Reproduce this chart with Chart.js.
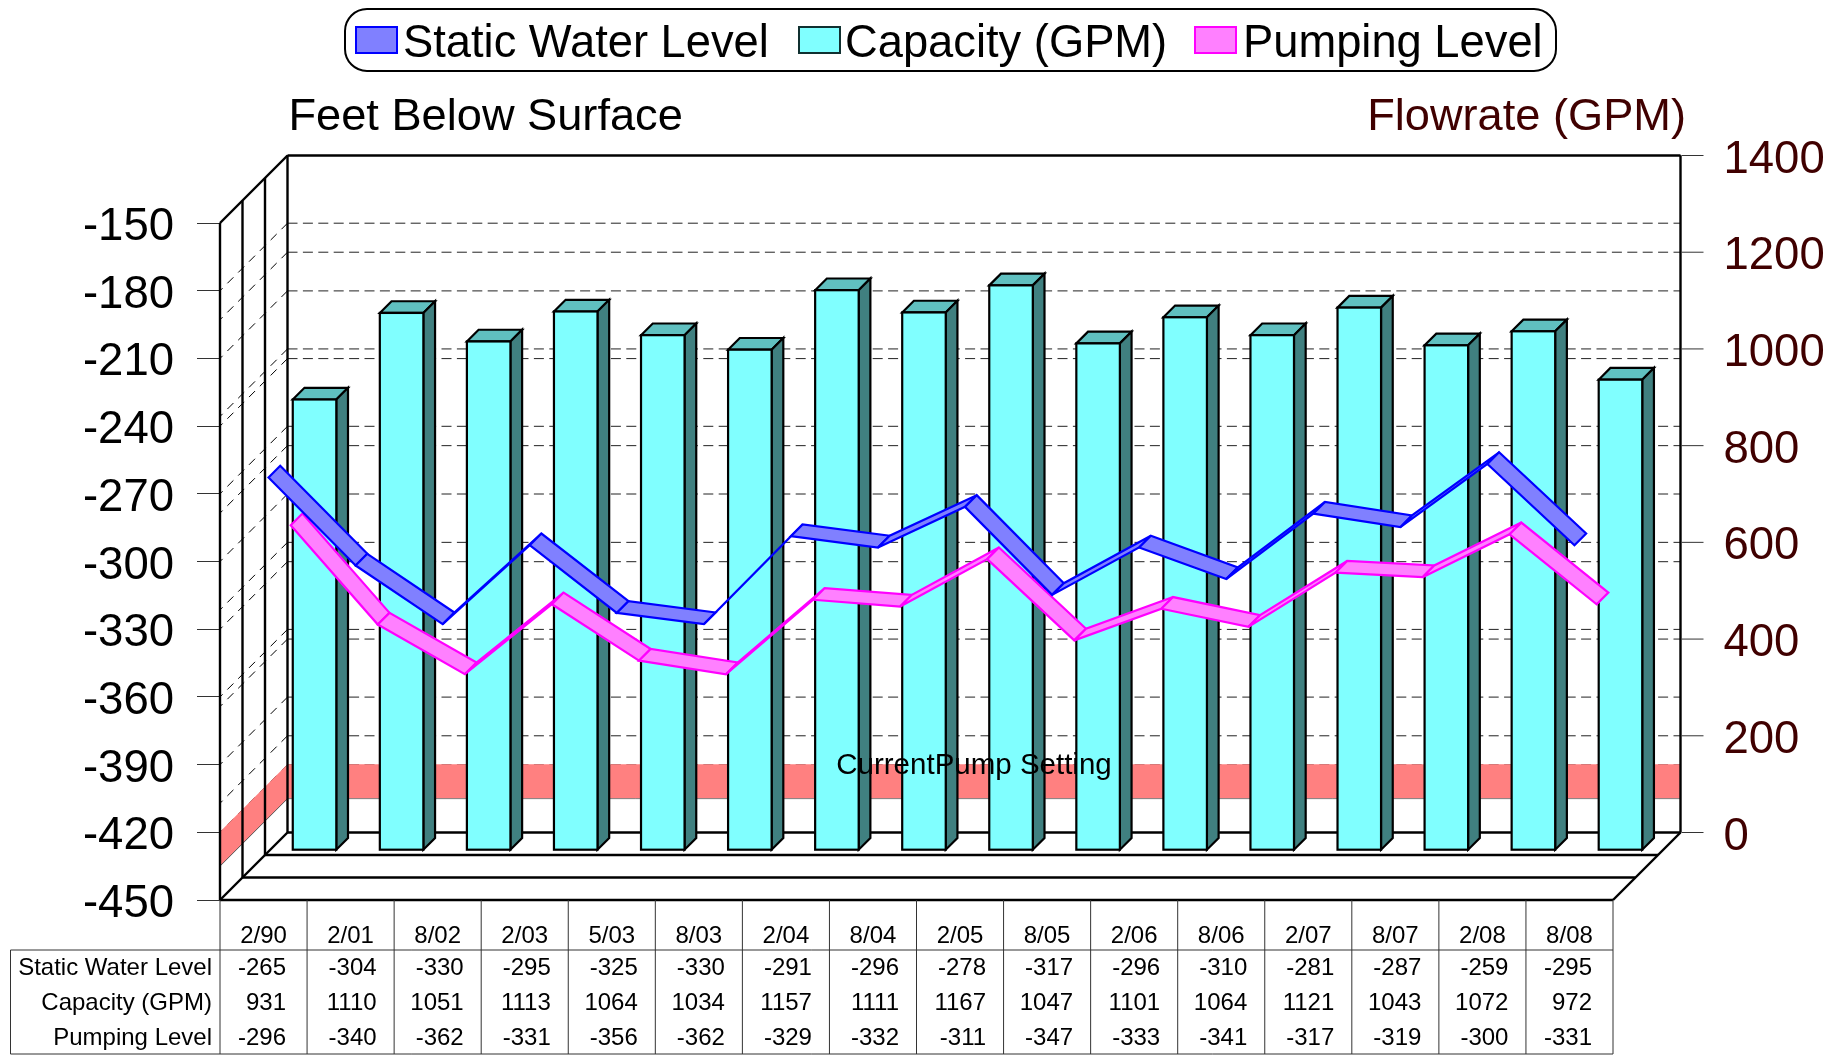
<!DOCTYPE html>
<html>
<head>
<meta charset="utf-8">
<title>Well levels and capacity</title>
<script src="https://cdn.jsdelivr.net/npm/chart.js@4"></script>
<style>
  html, body { margin: 0; padding: 0; background: #fff; }
  canvas { display: block; }
</style>
</head>
<body>
<canvas id="wellChart" width="1845" height="1057"></canvas>
<script>
// --- DATA ---
const dates = ['2/90', '2/01', '8/02', '2/03', '5/03', '8/03', '2/04', '8/04', '2/05', '8/05', '2/06', '8/06', '2/07', '8/07', '2/08', '8/08'];
const staticLevel = [-265, -304, -330, -295, -325, -330, -291, -296, -278, -317, -296, -310, -281, -287, -259, -295];
const capacity = [931, 1110, 1051, 1113, 1064, 1034, 1157, 1111, 1167, 1047, 1101, 1064, 1121, 1043, 1072, 972];
const pumpingLevel = [-296, -340, -362, -331, -356, -362, -329, -332, -311, -347, -333, -341, -317, -319, -300, -331];
const pumpSetting = [-435, -420];
const pumpSettingLabel = 'CurrentPump Setting';

// --- 3D LOOK ---
const FONT = '"Liberation Sans", Arial, sans-serif';
const MAROON = '#400000';
const WALL = 67.5;         // how far the back wall sits behind the front plane
const BAR_DEPTH = 50;      // where the bars start
const BAR_THICK = 11.7;
const STATIC_DEPTH = 5;
const PUMP_DEPTH = 27.2;
const RIBBON_THICK = 11.7;

function line(ctx, x1, y1, x2, y2) {
    ctx.beginPath();
    ctx.moveTo(x1, y1);
    ctx.lineTo(x2, y2);
    ctx.stroke();
}

function poly(ctx, pts, fill, stroke, width) {
    ctx.beginPath();
    pts.forEach((p, i) => i ? ctx.lineTo(p[0], p[1]) : ctx.moveTo(p[0], p[1]));
    ctx.closePath();
    ctx.fillStyle = fill;
    ctx.fill();
    if (stroke) {
        ctx.strokeStyle = stroke;
        ctx.lineWidth = width;
        ctx.stroke();
    }
}

function text(ctx, str, x, y, font, color, align) {
    ctx.font = font;
    ctx.fillStyle = color;
    ctx.textAlign = align || 'left';
    ctx.textBaseline = 'alphabetic';
    ctx.fillText(str, x, y);
}

// walls, floor, grid lines and the pump setting band
const wallsPlugin = {
    id: 'walls',
    beforeDatasetsDraw(chart) {
        const { ctx, chartArea: a, scales } = chart;
        const backL = a.left + WALL, backR = a.right + WALL;
        ctx.save();

        // dashed grid lines for both value axes, on back wall and left wall
        ctx.lineWidth = 1;
        [scales.y, scales.y1].forEach(scale => {
            scale.ticks.forEach(t => {
                const py = scale.getPixelForValue(t.value);
                ctx.strokeStyle = '#222';
                ctx.setLineDash([10, 5.4]);
                line(ctx, backL, py - WALL, backR, py - WALL);
                ctx.strokeStyle = '#000';
                ctx.setLineDash([8.5, 6.8]);
                line(ctx, backL, py - WALL, a.left, py);
            });
        });
        ctx.setLineDash([]);

        // band, a little past its top edge so the grid line there stays faint
        const top = scales.y.getPixelForValue(pumpSetting[1]) - 0.6;
        const bot = scales.y.getPixelForValue(pumpSetting[0]);
        poly(ctx, [[backL, top - WALL], [backR, top - WALL], [backR, bot - WALL], [backL, bot - WALL]], '#FF8080');
        poly(ctx, [[a.left, top], [backL, top - WALL], [backL, bot - WALL], [a.left, bot]], '#FF8080');
        ctx.lineWidth = 1;
        ctx.strokeStyle = '#808080';
        line(ctx, backL, bot - WALL, backR, bot - WALL);
        ctx.strokeStyle = '#555';
        line(ctx, a.left, bot, backL, bot - WALL);

        // frame
        ctx.strokeStyle = '#000';
        ctx.lineWidth = 2.4;
        [0, WALL / 3, WALL * 2 / 3, WALL].forEach(d => {
            line(ctx, a.left + d, a.top - d, a.left + d, a.bottom - d);
            line(ctx, a.left + d, a.bottom - d, a.right + d, a.bottom - d);
        });
        line(ctx, a.left, a.top, backL, a.top - WALL);
        line(ctx, a.left, a.bottom, backL, a.bottom - WALL);
        line(ctx, a.right, a.bottom, backR, a.bottom - WALL);
        line(ctx, backL, a.top - WALL, backR, a.top - WALL);
        line(ctx, backR, a.top - WALL, backR, a.bottom - WALL);

        // left axis labels
        const labelFont = '45.5px ' + FONT;
        scales.y.ticks.forEach(t => {
            text(ctx, String(t.value), 174, scales.y.getPixelForValue(t.value) + 17, labelFont, '#000', 'right');
        });

        // right axis sits on the back wall, so its ticks are shifted
        const y1 = scales.y1;
        y1.ticks.forEach(t => {
            const py = y1.getPixelForValue(t.value) - WALL;
            ctx.strokeStyle = '#333';
            ctx.lineWidth = 1;
            line(ctx, backR + 1, py, backR + 23, py);
            text(ctx, String(t.value), backR + 43, py + 17, labelFont, MAROON);
        });
        ctx.restore();
    },
    // bars and ribbons get their depth here
    beforeDatasetDraw(chart, args) {
        const { ctx } = chart;
        const ds = chart.data.datasets[args.index];
        ctx.save();
        if (ds.type === 'bar') {
            ctx.translate(BAR_DEPTH + 1, -BAR_DEPTH - 0.3);
            const d = BAR_THICK;
            args.meta.data.forEach(bar => {
                const l = bar.x - bar.width / 2, r = bar.x + bar.width / 2, t = bar.y;
                poly(ctx, [[l, t], [l + d, t - d], [r + d, t - d], [r, t]], '#60C0C0', '#000', 2.2);
                poly(ctx, [[r, t], [r + d, t - d], [r + d, bar.base - d], [r, bar.base]], '#408080', '#000', 2.2);
            });
        }
    },
    afterDatasetDraw(chart, args) {
        const { ctx } = chart;
        const ds = chart.data.datasets[args.index];
        if (ds.type === 'bar') {
            // outline centred on the bar edge
            ctx.strokeStyle = '#000';
            ctx.lineWidth = 2.2;
            args.meta.data.forEach(bar => {
                ctx.strokeRect(bar.x - bar.width / 2, bar.y, bar.width, bar.base - bar.y);
            });
        }
        ctx.restore();
        if (ds.type === 'line') {
            const s = ds.depth, e = ds.depth + RIBBON_THICK;
            const pts = args.meta.data;
            ctx.save();
            ctx.lineJoin = 'miter';
            ctx.miterLimit = 2.5;
            for (let i = 0; i < pts.length - 1; i++) {
                const a = pts[i], b = pts[i + 1];
                poly(ctx, [[a.x + s, a.y - s], [b.x + s, b.y - s], [b.x + e, b.y - e], [a.x + e, a.y - e]], ds.backgroundColor, ds.borderColor, 2.2);
            }
            ctx.restore();
        }
    },
    // legend, titles, data table
    afterDraw(chart) {
        const { ctx, chartArea: a, scales } = chart;
        ctx.save();

        // band label goes over everything
        text(ctx, pumpSettingLabel, 974, 774, '29.5px ' + FONT, '#000', 'center');

        // legend
        ctx.beginPath();
        ctx.roundRect(345, 9, 1211, 62, 22);
        ctx.fillStyle = '#fff';
        ctx.fill();
        ctx.strokeStyle = '#000';
        ctx.lineWidth = 2;
        ctx.stroke();
        const legendX = [[356, 403], [799, 845], [1195, 1243]];
        chart.data.datasets.forEach((ds, i) => {
            const sx = legendX[i][0];
            poly(ctx, [[sx, 27], [sx + 41, 27], [sx + 41, 53], [sx, 53]], ds.backgroundColor, ds.legendStroke, 2);
            text(ctx, ds.label, legendX[i][1], 57, '45.3px ' + FONT, '#000');
        });

        // axis titles
        text(ctx, 'Feet Below Surface', 288.5, 130, '45.2px ' + FONT, '#000');
        text(ctx, 'Flowrate (GPM)', 1686, 130, '45.2px ' + FONT, MAROON, 'right');

        // table
        const cell = (a.right - a.left) / dates.length;
        ctx.strokeStyle = '#333';
        ctx.lineWidth = 1;
        for (let i = 0; i <= dates.length; i++) {
            line(ctx, a.left + cell * i, a.bottom, a.left + cell * i, 1054);
        }
        line(ctx, 10.5, 950, a.right, 950);
        line(ctx, 10.5, 1054, a.right, 1054);
        line(ctx, 10.5, 950, 10.5, 1054);

        const rows = [staticLevel, capacity, pumpingLevel];
        const rowNames = chart.data.datasets.map(ds => ds.label);
        const baselines = [975, 1010, 1045];
        const font = '24px ' + FONT;
        rows.forEach((row, r) => {
            text(ctx, rowNames[r], 212, baselines[r], font, '#000', 'right');
            row.forEach((v, i) => {
                const inset = (i === 0 || i === row.length - 1) ? 21 : 17.5;
                text(ctx, String(v), scales.x.getPixelForValue(i) + cell / 2 - inset, baselines[r], font, '#000', 'right');
            });
        });
        ctx.restore();
    }
};

const canvas = document.getElementById('wellChart');
const wellChart = new Chart(canvas.getContext('2d'), {
    type: 'bar',
    data: {
        labels: dates,
        datasets: [
            {
                type: 'line',
                label: 'Static Water Level',
                data: staticLevel,
                yAxisID: 'y',
                order: 1,
                showLine: false,
                pointRadius: 0,
                clip: false,
                depth: STATIC_DEPTH,
                backgroundColor: '#8080FF',
                borderColor: '#0000FF',
                legendStroke: '#0000FF'
            },
            {
                type: 'bar',
                label: 'Capacity (GPM)',
                data: capacity,
                yAxisID: 'y1',
                order: 3,
                clip: false,
                barPercentage: 0.5,
                categoryPercentage: 1,
                backgroundColor: '#80FFFF',
                borderWidth: 0,
                legendStroke: '#103030'
            },
            {
                type: 'line',
                label: 'Pumping Level',
                data: pumpingLevel,
                yAxisID: 'y',
                order: 2,
                showLine: false,
                pointRadius: 0,
                clip: false,
                depth: PUMP_DEPTH,
                backgroundColor: '#FF80FF',
                borderColor: '#FF00FF',
                legendStroke: '#FF00FF'
            }
        ]
    },
    options: {
        responsive: false,
        animation: false,
        events: [],
        layout: { padding: { top: 223, right: 232, left: 0, bottom: 0 } },
        plugins: { legend: { display: false }, tooltip: { enabled: false } },
        scales: {
            x: {
                offset: true,
                grid: { display: false },
                border: { display: false },
                ticks: {
                    autoSkip: false,
                    maxRotation: 0,
                    color: '#000',
                    font: { family: FONT, size: 24 },
                    padding: 14
                },
                afterFit: s => { s.height = 157; }
            },
            y: {
                position: 'left',
                min: -450,
                max: -150,
                border: { display: false },
                grid: { drawOnChartArea: false, tickLength: 23, color: '#333', lineWidth: 1 },
                ticks: { stepSize: 30, display: false },
                afterFit: s => { s.width = 220; }
            },
            y1: {
                display: false,
                position: 'right',
                min: 0,
                max: 1400,
                ticks: { stepSize: 200 }
            }
        }
    },
    plugins: [wallsPlugin]
});
</script>
</body>
</html>
